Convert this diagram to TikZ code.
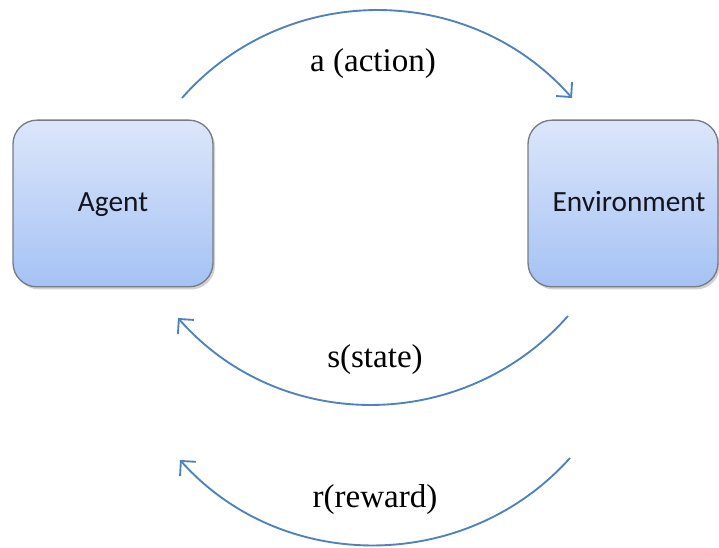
\documentclass[tikz,border=0pt]{standalone}
\usepackage{fontspec}
\setmainfont{Liberation Serif}
\newfontfamily\boxfont{Carlito}
\usetikzlibrary{arrows.meta,shadows}
\definecolor{arcblue}{HTML}{4F81BD}
\definecolor{boxtop}{HTML}{DCE6FA}
\definecolor{boxbot}{HTML}{A5C2F4}
\definecolor{boxedge}{HTML}{767C86}
\definecolor{boxtext}{HTML}{14141E}
\tikzset{
  unitbox/.style={draw=boxedge, line width=1pt, rounded corners=18pt,
    top color=boxtop, bottom color=boxbot,
    minimum height=125pt, inner sep=0pt, text height=14pt, text depth=2.5pt,
    font=\boxfont\fontsize{22}{26}\selectfont, text=boxtext,
    drop shadow={shadow xshift=1.5pt, shadow yshift=-2pt, fill=black, opacity=0.18}},
  flow/.style={draw=arcblue, line width=1.4pt,
    -{Straight Barb[length=8pt,width=16pt,line width=1.4pt]}},
  arclabel/.style={font=\fontsize{24.8}{28}\selectfont, inner sep=0pt}
}
\begin{document}
\begin{tikzpicture}[x=0.75pt, y=-0.75pt]
  \useasboundingbox (0,0) rectangle (719,548);

  % the two boxes
  \node[unitbox, minimum width=150pt] (agent) at (113,203.5) {Agent};
  \node[unitbox, minimum width=142.5pt] (env) at (623,203.5) {\hspace{9pt}Environment};

  % arc end points
  \coordinate (a0) at (182,98);
  \coordinate (a1) at (572,98);
  \coordinate (s0) at (568,316);
  \coordinate (s1) at (178,318);
  \coordinate (r0) at (570,458);
  \coordinate (r1) at (180,460);

  % action, state and reward arcs
  \draw[flow] (a0) .. controls (285,-19) and (469,-19) .. (a1);
  \draw[flow] (s0) .. controls (465,433) and (281,435) .. (s1);
  \draw[flow] (r0) .. controls (467,573) and (283,575) .. (r1);

  % arc labels
  \node[arclabel] (act) at (373,64) {a (action)};
  \node[arclabel] (st) at (375,360) {s(state)};
  \node[arclabel] (rw) at (375,500) {r(reward)};
\end{tikzpicture}
\end{document}
